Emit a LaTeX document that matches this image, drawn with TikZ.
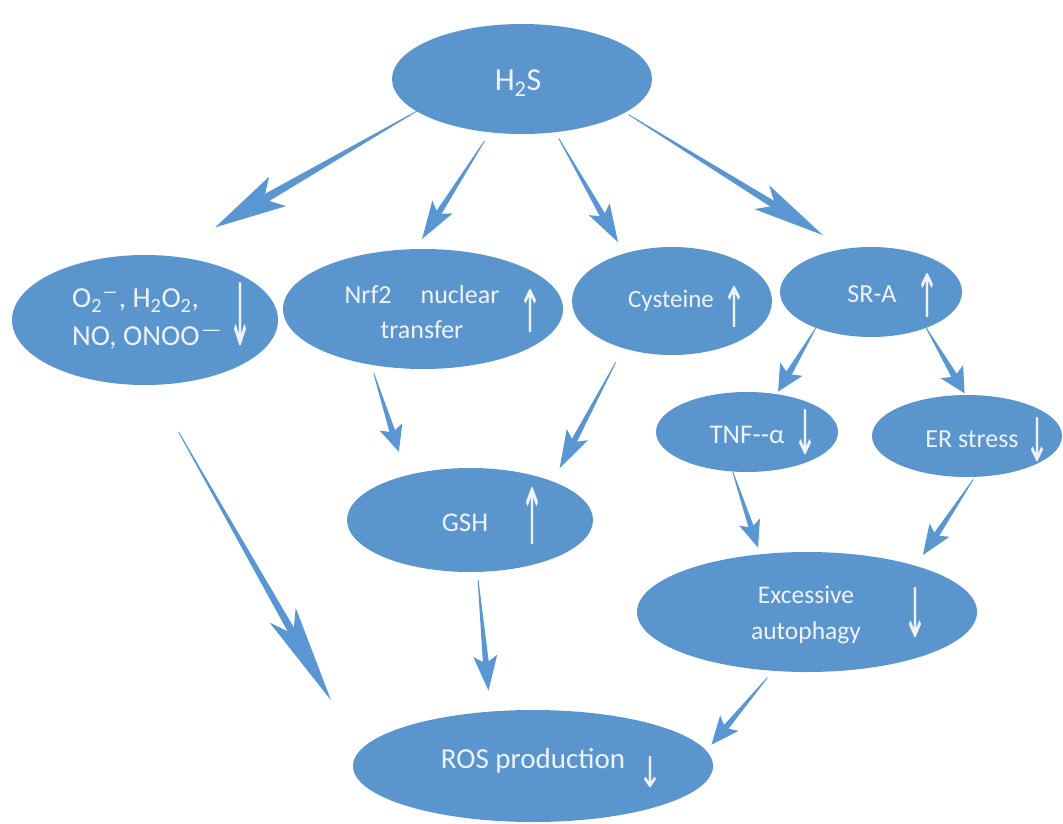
\documentclass[tikz,border=0pt]{standalone}
\usepackage{graphicx}
\usepackage{fontspec}
\setmainfont{Carlito}
\newfontfamily\dejavu{DejaVu Sans}
\usetikzlibrary{calc,shapes.geometric}
\definecolor{ellc}{HTML}{5B95CD}
\definecolor{arrc}{HTML}{5A97D2}
\definecolor{txtc}{HTML}{EEF3FA}
\newcommand\vup[1]{\resizebox*{24pt}{#1}{\dejavu ↑}}
\newcommand\vdn[1]{\resizebox*{24pt}{#1}{\dejavu ↓}}
\newcommand\supdash[1]{\textsuperscript{\scalebox{#1}[1]{–}}}
% tapered connector: from anchor, to anchor, shorten start, shorten end, head length, head half width
\newcommand\hsconn[6]{%
  \path ($(#1)!#3pt!(#2)$) coordinate (cS);
  \path ($(#2)!#4pt!(#1)$) coordinate (cT);
  \path ($(cT)!#5pt!(cS)$) coordinate (cB);
  \pgfmathsetlengthmacro\hsinset{0.78*#5pt}%
  \pgfmathsetlengthmacro\hsshaft{0.25*#6pt}%
  \path ($(cT)!\hsinset!(cS)$) coordinate (cN);
  \fill[arrc] ($(cS)!0.4pt!90:(cT)$) -- ($(cN)!\hsshaft!-90:(cS)$) -- ($(cN)!\hsshaft!90:(cS)$) -- ($(cS)!0.4pt!-90:(cT)$) -- cycle;
  \fill[arrc] (cT) -- ($(cB)!#6pt!-90:(cT)$) -- (cN) -- ($(cB)!#6pt!90:(cT)$) -- cycle;
}
\tikzset{
  ell/.style={ellipse, fill=ellc, draw=none, inner sep=0pt, outer sep=0pt},
  txt/.style={text=txtc, inner sep=0pt},
  sym/.style={text=txtc, inner sep=0pt}
}
\begin{document}
\begin{tikzpicture}[x=1pt,y=-1pt]
\useasboundingbox[fill=white] (0,0) rectangle (1063,824);
% ellipses
\node[ell, minimum width=260pt, minimum height=110pt] (h2s) at (522,79) {};
\node[ell, minimum width=266pt, minimum height=130pt] (o2) at (145,320) {};
\node[ell, minimum width=280pt, minimum height=120pt] (nrf2) at (423,309) {};
\node[ell, minimum width=200pt, minimum height=108pt] (cys) at (672,301) {};
\node[ell, minimum width=182pt, minimum height=90pt] (sra) at (871,292) {};
\node[ell, minimum width=182pt, minimum height=80pt] (tnf) at (747,432) {};
\node[ell, minimum width=190pt, minimum height=82pt] (er) at (967,436) {};
\node[ell, minimum width=246pt, minimum height=104pt] (gsh) at (470,520) {};
\node[ell, minimum width=340pt, minimum height=120pt] (exc) at (807,612) {};
\node[ell, minimum width=360pt, minimum height=112pt] (ros) at (533,766) {};
% texts
\node[txt, font=\fontsize{32}{36}\selectfont] (h2st) at (518,83) {H\textsubscript{2}S};
\node[txt, font=\fontsize{29}{38}\selectfont, align=left, anchor=west] (o2t) at (72,319)
  {O\textsubscript{2}\supdash{1.6}, H\textsubscript{2}O\textsubscript{2},\\NO, ONOO\supdash{2.3}};
\node[sym] (o2a) at (240,314) {\vdn{63pt}};
\node[txt, font=\fontsize{26}{35}\selectfont, align=center] (nrf2t) at (422,312) {Nrf2\hspace{29pt}nuclear\\transfer};
\node[sym] (nrf2a) at (530,311) {\vup{43pt}};
\node[txt, font=\fontsize{25}{30}\selectfont] (cyst) at (671,301) {Cysteine};
\node[sym] (cysa) at (734,307) {\vup{41pt}};
\node[txt, font=\fontsize{26}{30}\selectfont] (srat) at (872,294) {SR-A};
\node[sym] (sraa) at (927,295) {\vup{44pt}};
\node[txt, font=\fontsize{27}{30}\selectfont] (tnft) at (747,435) {TNF-{}-α};
\node[sym] (tnfa) at (805,432) {\vdn{45pt}};
\node[txt, font=\fontsize{26}{30}\selectfont] (ert) at (972,439) {ER stress};
\node[sym] (era) at (1037,440) {\vdn{44pt}};
\node[txt, font=\fontsize{27}{30}\selectfont] (gsht) at (465,523) {GSH};
\node[sym] (gsha) at (532,516) {\vup{57pt}};
\node[txt, font=\fontsize{25.5}{36}\selectfont, align=center] (exct) at (806,615) {Excessive\\autophagy};
\node[sym] (exca) at (915,613) {\vdn{50pt}};
\node[txt, font=\fontsize{29}{32}\selectfont] (rost) at (533,761) {ROS production};
\node[sym] (rosa) at (650,772) {\vdn{31pt}};
% connectors
\hsconn{h2s.197}{o2.72}{0}{57}{72}{17}
\hsconn{h2s.-121}{nrf2.97}{10}{12}{38}{12}
\hsconn{h2s.-58}{cys.135}{7}{13}{38}{12}
\hsconn{h2s.-18}{sra.121}{4}{26}{72}{14}
\hsconn{o2.-84}{ros.175}{54}{58}{98}{15}
\hsconn{nrf2.-133}{gsh.145}{9}{25}{26}{12}
\hsconn{cys.-136}{gsh.25}{16}{15}{38}{12}
\hsconn{gsh.-82}{ros.128}{8}{21}{35}{12}
\hsconn{sra.-147}{tnf.52}{0}{3}{26}{13}
\hsconn{sra.-33}{er.92}{0}{2}{25}{13}
\hsconn{tnf.-110}{exc.129}{0}{7}{27}{11}
\hsconn{er.-79}{exc.23}{3}{13}{30}{12}
\hsconn{exc.-120}{ros.5}{9}{8}{28}{12}
\end{tikzpicture}
\end{document}
